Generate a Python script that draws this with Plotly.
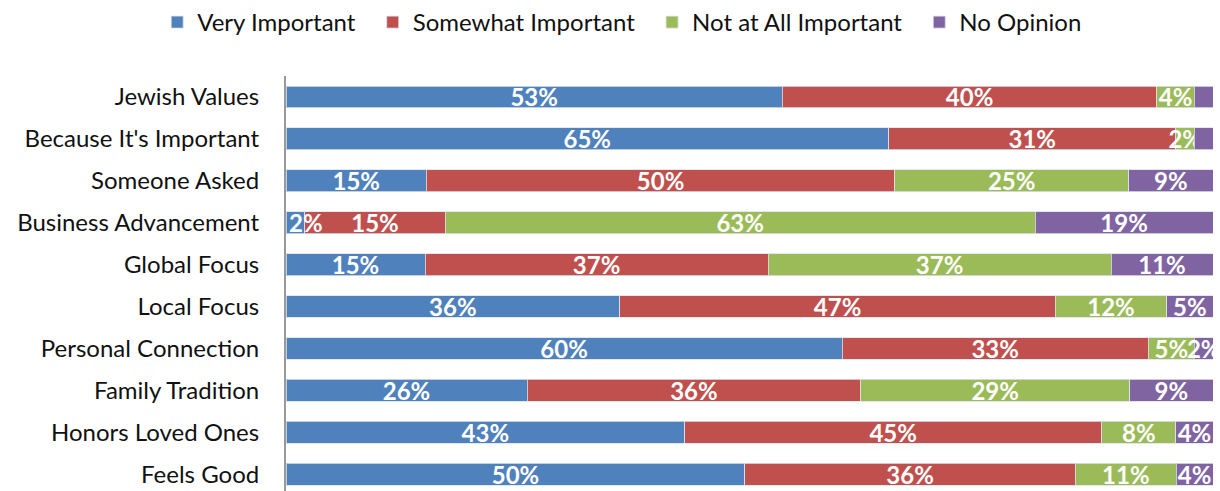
import plotly.graph_objects as go

categories = ["Jewish Values", "Because It's Important", "Someone Asked", "Business Advancement",
              "Global Focus", "Local Focus", "Personal Connection", "Family Tradition",
              "Honors Loved Ones", "Feels Good"]

very_important = [53, 65, 15, 2, 15, 36, 60, 26, 43, 50]
somewhat_important = [40, 31, 50, 15, 37, 47, 33, 36, 45, 36]
not_at_all_important = [4, 2, 25, 63, 37, 12, 5, 29, 8, 11]
no_opinion = [2, 2, 9, 19, 11, 5, 2, 9, 4, 4]
no_opinion_labels = ["", "", "9%", "19%", "11%", "5%", "2%", "9%", "4%", "4%"]

series = [
    ("Very Important", very_important, "#4F81BD", None),
    ("Somewhat Important", somewhat_important, "#C0504D", None),
    ("Not at All Important", not_at_all_important, "#9BBB59", None),
    ("No Opinion", no_opinion, "#8064A2", no_opinion_labels),
]

FONT = "Lato"
PAD = "\u00a0" * 2
fig = go.Figure()
annotations = []
for i, (name, vals, color, labels) in enumerate(series):
    text = list(labels) if labels is not None else [f"{v}%" for v in vals]
    if i == 0:
        # very thin first segment: label starts at the axis and overflows to the right
        for j, v in enumerate(vals):
            if v < 3:
                annotations.append(dict(x=0, y=categories[j], xref="x", yref="y",
                                        text=text[j], showarrow=False, xanchor="left",
                                        xshift=1,
                                        font=dict(color="white", size=24, family=FONT,
                                                  weight="bold")))
                text[j] = ""
    fig.add_trace(go.Bar(
        name=name + (PAD if i < 3 else ""), y=categories, x=vals, orientation="h",
        marker=dict(color=color, line=dict(color="rgba(220,225,235,0.8)", width=1)),
        text=text, textposition="inside", insidetextanchor="middle",
        textangle=0, constraintext="none",
        textfont=dict(color="white", size=24, family=FONT, weight="bold"),
        hoverinfo="skip",
    ))

fig.update_layout(
    barmode="stack", barnorm="percent", bargap=0.48,
    width=1220, height=491,
    margin=dict(l=286, r=7, t=76, b=0),
    paper_bgcolor="white", plot_bgcolor="white",
    font=dict(family=FONT, size=24, color="#111"),
    legend=dict(orientation="h", xref="container", yref="container",
                x=0.51, xanchor="center", y=1.0, yanchor="top",
                font=dict(size=24, family=FONT, color="#111"),
                traceorder="normal", itemwidth=30),
    xaxis=dict(showticklabels=False, showgrid=False, zeroline=False, range=[0, 100],
               fixedrange=True),
    yaxis=dict(type="category", range=[9.4, -0.5], showline=True, linecolor="#999",
               linewidth=2, ticks="", ticklabelstandoff=20,
               tickfont=dict(size=24, family=FONT, color="#111")),
    annotations=annotations,
)

fig.write_html("out.html")
